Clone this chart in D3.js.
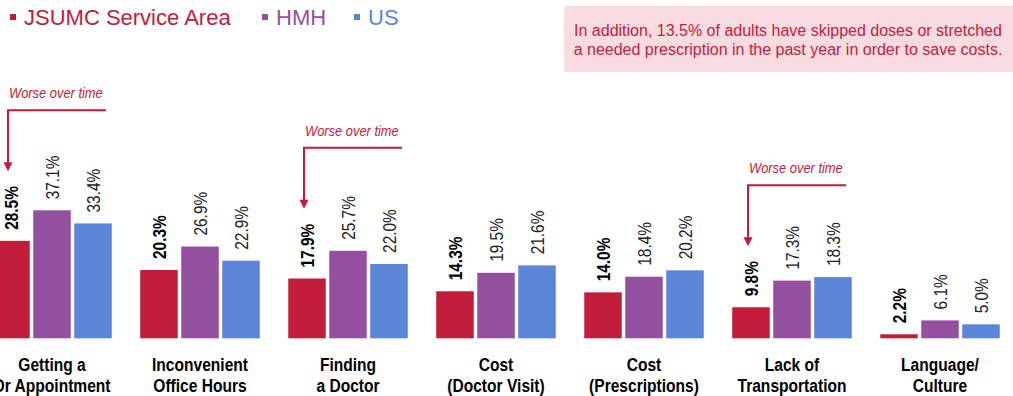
<!DOCTYPE html>
<html><head><meta charset="utf-8">
<script src="https://cdn.jsdelivr.net/npm/d3@7"></script>
<style>
html,body{margin:0;padding:0;background:#fff;overflow:hidden}
svg{display:block}
</style></head>
<body>
<svg id="chart" width="1013" height="396"></svg>
<script>
const categories = [
  ["Getting a", "Dr Appointment"],
  ["Inconvenient", "Office Hours"],
  ["Finding", "a Doctor"],
  ["Cost", "(Doctor Visit)"],
  ["Cost", "(Prescriptions)"],
  ["Lack of", "Transportation"],
  ["Language/", "Culture"]
];
const seriesNames = ["JSUMC Service Area", "HMH", "US"];
const jsumc = [28.5, 20.3, 17.9, 14.3, 14.0, 9.8, 2.2];
const hmh   = [37.1, 26.9, 25.7, 19.5, 18.4, 17.3, 6.1];
const us    = [33.4, 22.9, 22.0, 21.6, 20.2, 18.3, 5.0];
const worseIdx = [0, 2, 5];
const worseText = "Worse over time";
const noteLines = ["In addition, 13.5% of adults have skipped doses or stretched",
                   "a needed prescription in the past year in order to save costs."];

const colors = ["#C11C3A", "#93509E", "#5B85D6"];
const FONT = "'Liberation Sans',Arial,sans-serif";
const NX = 0.82; // horizontal condensing to imitate a narrow face

const svg = d3.select("#chart");
const seriesVals = [jsumc, hmh, us];

const x0 = d3.scaleBand().domain(d3.range(categories.length)).range([-22, -22 + 148 * categories.length]).padding(0);
const x1 = d3.scaleBand().domain(d3.range(3)).range([0, x0.bandwidth()]).paddingInner(0.0854).paddingOuter(0.3476);
const y = d3.scaleLinear().domain([1.07, 40]).range([338.3, 200]);

const groups = svg.append("g").selectAll("g").data(categories).join("g")
  .attr("transform", (d, i) => `translate(${x0(i)},0)`);

const cells = groups.selectAll("g.cell").data((d, i) => seriesVals.map((s, k) => ({k, v: s[i], i})))
  .join("g").attr("class", "cell");

cells.append("rect")
  .attr("x", d => x1(d.k))
  .attr("width", x1.bandwidth())
  .attr("y", d => y(d.v))
  .attr("height", d => y(y.domain()[0]) - y(d.v))
  .attr("fill", d => colors[d.k]);

const labels = cells.append("text")
  .attr("transform", d => `translate(${x1(d.k) + x1.bandwidth() / 2},${y(d.v) - 11}) rotate(-90) scale(${NX},1)`)
  .attr("dy", "0.36em")
  .attr("text-anchor", "start")
  .style("font-family", FONT)
  .style("font-size", "18.8px")
  .style("font-weight", d => d.k === 0 ? "bold" : "normal")
  .attr("fill", d => d.k === 0 ? "#000" : "#222")
  .text(d => d.v.toFixed(1) + "%");

// category labels
groups.append("g")
  .attr("transform", `translate(${x0.bandwidth() / 2},0) scale(${NX},1)`)
  .append("text")
  .attr("text-anchor", "middle")
  .style("font-family", FONT)
  .style("font-size", "19px")
  .style("font-weight", "bold")
  .attr("fill", "#000")
  .selectAll("tspan").data(d => d).join("tspan")
  .attr("x", 0)
  .attr("y", (d, j) => 371.2 + j * 21.2)
  .text(d => d);

// legend
const legendX = [10, 262, 354];
const lg = svg.append("g").selectAll("g").data(seriesNames).join("g")
  .attr("transform", (d, i) => `translate(${legendX[i]},0)`);
lg.append("rect").attr("x", 0).attr("y", 14).attr("width", 6).attr("height", 6).attr("fill", (d, i) => colors[i]);
lg.append("text").attr("x", 14).attr("y", 25).style("font-family", FONT).style("font-size", "22px")
  .attr("fill", (d, i) => colors[i]).text(d => d);

// note box
svg.append("rect").attr("x", 564).attr("y", 6).attr("width", 460).attr("height", 66).attr("fill", "#F8DCDF");
svg.append("text").attr("text-anchor", "middle").style("font-family", FONT).style("font-size", "16px")
  .attr("fill", "#C5203F")
  .selectAll("tspan").data(noteLines).join("tspan")
  .attr("x", 788).attr("y", (d, j) => 35.5 + j * 19.5).text(d => d);

// worse over time arrows
const arrowColor = "#C11C3A";
worseIdx.forEach(i => {
  const lab = labels.filter(d => d.i === i && d.k === 0).node();
  const bb = lab.getBoundingClientRect();
  const ax = x0(i) + x1(0) + x1.bandwidth() / 2 - 3;
  const tip = bb.top - 15;
  const lineY = tip - 61;
  const g = svg.append("g");
  g.append("path").attr("d", `M${ax + 98},${lineY}H${ax}V${tip - 8}`)
    .attr("fill", "none").attr("stroke", arrowColor).attr("stroke-width", 2);
  g.append("path").attr("d", `M${ax - 4.5},${tip - 9}L${ax + 4.5},${tip - 9}L${ax},${tip}Z`).attr("fill", arrowColor);
  g.append("text").attr("transform", `translate(${ax + 1},${lineY - 12}) scale(0.86,1)`)
    .style("font-family", FONT).style("font-size", "15px").style("font-style", "italic")
    .attr("fill", arrowColor).text(worseText);
});
</script>
</body></html>
